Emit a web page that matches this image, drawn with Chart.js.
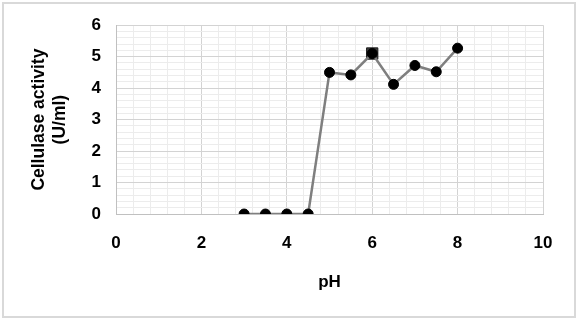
<!DOCTYPE html>
<html>
<head>
<meta charset="utf-8">
<script src="https://cdn.jsdelivr.net/npm/chart.js@4/dist/chart.umd.min.js"></script>
<style>
html,body{margin:0;padding:0;background:#fff;}
#wrap{width:579px;height:320px;position:relative;}
</style>
</head>
<body>
<div id="wrap"><canvas id="c" width="579" height="320"></canvas></div>
<script>
// ---- data ----
const phValues   = [3, 3.5, 4, 4.5, 5, 5.5, 6, 6.5, 7, 7.5, 8];
const activity   = [0, 0, 0, 0, 4.5, 4.42, 5.1, 4.12, 4.72, 4.52, 5.27];
const squarePh   = [6];
const squareAct  = [5.1];
const xMajorTicks = [0, 2, 4, 6, 8, 10];
const yMajorTicks = [0, 1, 2, 3, 4, 5, 6];
const xTitle = 'pH';
const yTitle = ['Cellulase activity', '(U/ml)'];

const FONT = "'Liberation Sans', Arial, sans-serif";
const MAJOR = '#d3d3d3';
const MINOR = '#ececec';

const isIn = (arr, v) => arr.some(t => Math.abs(t - v) < 1e-6);

const frame = {
  id: 'frame',
  beforeDraw(chart) {
    const ctx = chart.ctx;
    ctx.save();
    ctx.fillStyle = '#ffffff';
    ctx.fillRect(0, 0, chart.width, chart.height);
    ctx.restore();
  },
  afterDraw(chart) {
    const ctx = chart.ctx;
    ctx.save();
    ctx.strokeStyle = '#d9d9d9';
    ctx.lineWidth = 2;
    ctx.strokeRect(3, 3, 572, 314);
    ctx.restore();
  }
};

new Chart(document.getElementById('c'), {
  type: 'scatter',
  data: {
    datasets: [
      {
        data: phValues.map((x, i) => ({x, y: activity[i]})),
        showLine: true,
        borderColor: '#7f7f7f',
        borderWidth: 2.5,
        pointRadius: 5,
        pointBackgroundColor: '#000000',
        pointBorderColor: '#000000',
        pointBorderWidth: 1,
        tension: 0
      },
      {
        data: squarePh.map((x, i) => ({x, y: squareAct[i]})),
        showLine: false,
        pointStyle: 'rect',
        pointRadius: 8,
        pointBackgroundColor: '#3c3c3c',
        pointBorderColor: '#1e1e1e',
        pointBorderWidth: 1
      }
    ]
  },
  options: {
    responsive: false,
    animation: false,
    devicePixelRatio: 1,
    layout: { padding: { left: 0, top: 25, right: 36, bottom: 0 } },
    plugins: { legend: { display: false }, tooltip: { enabled: false } },
    scales: {
      x: {
        type: 'linear',
        min: 0, max: 10,
        afterFit(s) { s.height = 106; },
        grid: {
          drawTicks: false,
          color: c => isIn(xMajorTicks, c.tick.value) ? MAJOR : MINOR,
          lineWidth: 1
        },
        border: { color: '#c0c0c0', width: 1 },
        ticks: {
          stepSize: 0.4,
          autoSkip: false,
          maxRotation: 0,
          padding: 19,
          color: '#000',
          font: { family: FONT, size: 17, weight: 'bold' },
          callback: v => isIn(xMajorTicks, v) ? String(xMajorTicks.find(t => Math.abs(t - v) < 1e-6)) : ''
        },
        title: {
          display: true,
          text: xTitle,
          color: '#000',
          font: { family: FONT, size: 17, weight: 'bold' },
          padding: { top: 0, bottom: 27 }
        }
      },
      y: {
        type: 'linear',
        min: 0, max: 6,
        afterFit(s) { s.width = 116; },
        grid: {
          drawTicks: false,
          color: c => isIn(yMajorTicks, c.tick.value) ? MAJOR : MINOR,
          lineWidth: 1
        },
        border: { color: '#c0c0c0', width: 1 },
        ticks: {
          stepSize: 0.2,
          autoSkip: false,
          padding: 15,
          color: '#000',
          font: { family: FONT, size: 17, weight: 'bold' },
          callback: v => isIn(yMajorTicks, v) ? String(yMajorTicks.find(t => Math.abs(t - v) < 1e-6)) : ''
        },
        title: {
          display: true,
          text: yTitle,
          color: '#000',
          font: { family: FONT, size: 17.5, weight: 'bold', lineHeight: 1.2 },
          padding: { top: 29, bottom: 0 }
        }
      }
    }
  },
  plugins: [frame]
});
</script>
</body>
</html>
